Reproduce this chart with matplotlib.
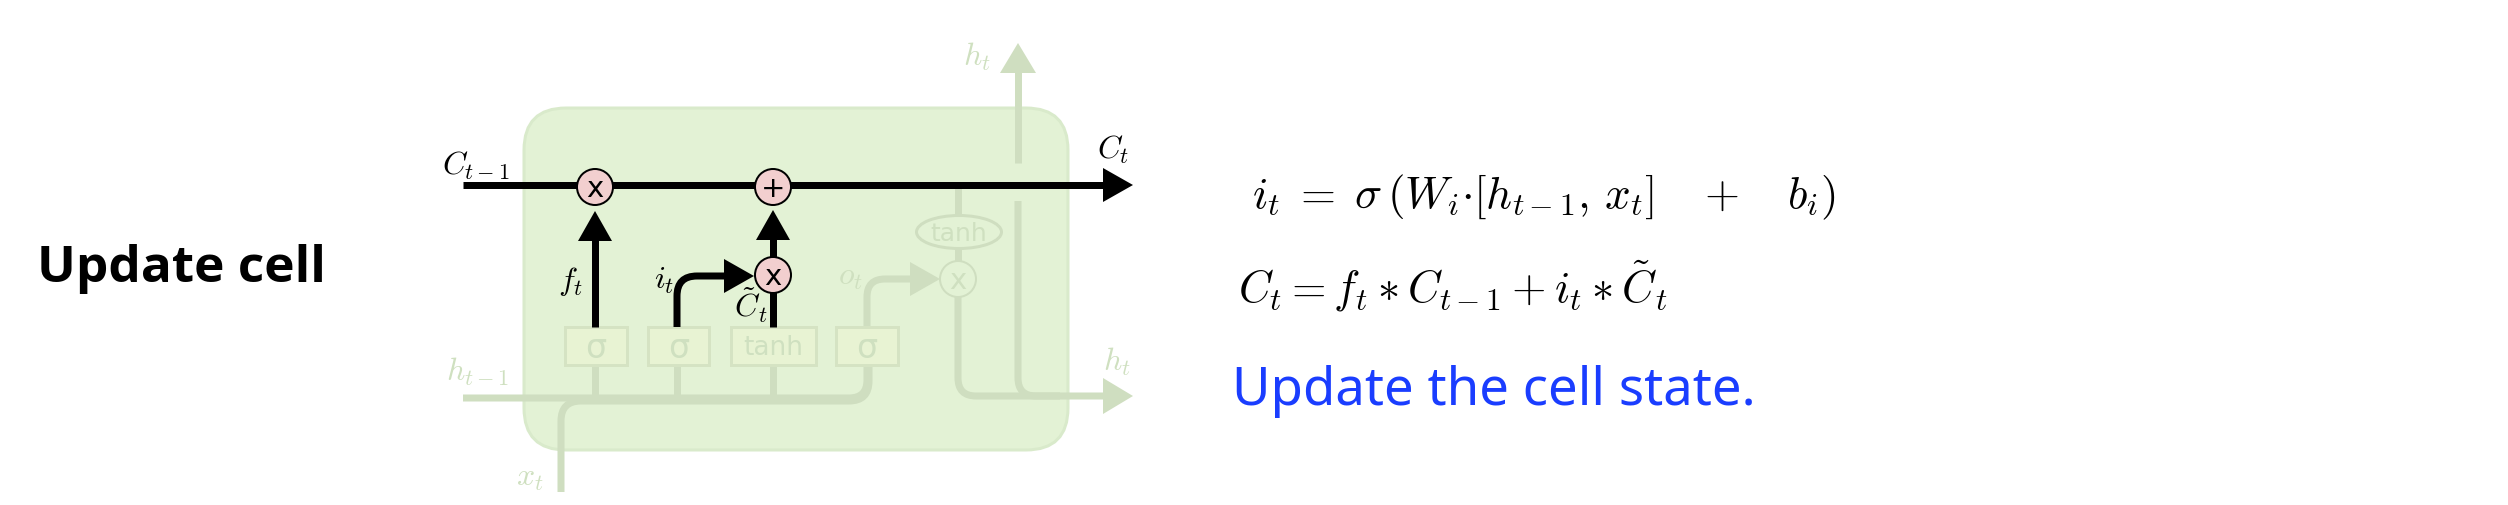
import numpy as np
import matplotlib
matplotlib.use("Agg")
import matplotlib.pyplot as plt
from matplotlib.patches import FancyBboxPatch, Rectangle, Circle, Ellipse, Polygon, PathPatch
from matplotlib.path import Path

plt.rcParams['mathtext.fontset'] = 'cm'

# ---- layout data (pixel coordinates of the diagram) ----
title_text = "Update cell"
caption_text = "Update the cell state."
eq_input_gate = r'$i_t\;=\;\sigma\,(W_i{\cdot}[h_{t-1},\,x_t]\ \ \ +\ \ \ b_i)$'
eq_cell_update = r'$C_t = f_t * C_{t-1} + i_t * \tilde{C}_t$'

gate_labels = ['σ', 'σ', 'tanh', 'σ']
gate_x0 = [565, 648, 731, 836]
gate_x1 = [627, 709, 816, 898]
gate_y0, gate_y1 = 328, 366
gate_stem_x = [595, 677, 773, 867]

cell_y = 186
hx_y = 399
op_forget = (595, 188)
op_add = (773, 188)
op_input = (773, 276)
op_output = (958, 280)
tanh_ell = (959, 233, 85, 33)

W, H = 2508, 506
fig = plt.figure(figsize=(W / 100, H / 100), dpi=100)
ax = fig.add_axes([0, 0, 1, 1])
ax.set_xlim(0, W)
ax.set_ylim(H, 0)
ax.axis('off')

PX = 72 / 100  # points per pixel
FADE = '#cfdec0'
FADE_TXT = '#cfe0c0'
BLACK = 'black'
LW = 7 * PX


def rounded(points, r=18):
    """Path through points with rounded (quadratic) corners."""
    pts = [np.array(p, float) for p in points]
    verts = [pts[0]]
    codes = [Path.MOVETO]
    for i in range(1, len(pts) - 1):
        p0, p1, p2 = pts[i - 1], pts[i], pts[i + 1]
        d1 = (p1 - p0) / np.linalg.norm(p1 - p0)
        d2 = (p2 - p1) / np.linalg.norm(p2 - p1)
        a = p1 - d1 * r
        b = p1 + d2 * r
        verts += [a, p1, b]
        codes += [Path.LINETO, Path.CURVE3, Path.CURVE3]
    verts.append(pts[-1])
    codes.append(Path.LINETO)
    return Path(verts, codes)


def line(points, color, lw=LW, r=18, z=2):
    ax.add_patch(PathPatch(rounded(points, r), facecolor='none', edgecolor=color,
                           lw=lw, capstyle='butt', joinstyle='round', zorder=z))


def head(tip, direction, color, length=30, half=17, z=3):
    tip = np.array(tip, float)
    d = np.array(direction, float)
    d = d / np.linalg.norm(d)
    n = np.array([-d[1], d[0]])
    base = tip - d * length
    ax.add_patch(Polygon([tip, base + n * half, base - n * half], closed=True,
                         facecolor=color, edgecolor='none', zorder=z))


# ---- cell body ----
ax.add_patch(FancyBboxPatch((564, 149), 464, 262, boxstyle="round,pad=40,rounding_size=42",
                            facecolor='#e3f2d5', edgecolor='#d9eacb', lw=3 * PX, zorder=1))

# ---- faded (inactive) parts ----
# h_{t-1} bus and o_t route
line([(463, hx_y), (867, hx_y), (867, gate_y1)], FADE)
# x_t input merging into the bus
line([(561, 493), (561, 402), (869, 402), (869, gate_y1)], FADE, r=20)
# gate stems
for sx in gate_stem_x[:3]:
    line([(sx, hx_y), (sx, gate_y1)], FADE)
# o_t arrow into output multiply
line([(867, gate_y0), (867, 280), (912, 280)], FADE)
head((940, 280), (1, 0), FADE)
# tanh chain on the right
line([(958, cell_y), (958, tanh_ell[1] - tanh_ell[3] / 2)], FADE)
line([(958, tanh_ell[1] + tanh_ell[3] / 2), (958, op_output[1] - 18)], FADE)
line([(958, op_output[1] + 18), (958, 397), (1105, 397)], FADE)
head((1133, 397), (1, 0), FADE, half=18)
line([(1018, 202), (1018, 397), (1060, 397)], FADE)
line([(1018, 164), (1018, 70)], FADE)
head((1018, 44), (0, -1), FADE, half=18)
ax.add_patch(Ellipse(tanh_ell[:2], tanh_ell[2], tanh_ell[3], facecolor='#e3f2d5',
                     edgecolor=FADE, lw=3 * PX, zorder=3))
ax.text(tanh_ell[0], tanh_ell[1] + 1, 'tanh', color=FADE_TXT, fontsize=18,
        ha='center', va='center', zorder=4)
ax.add_patch(Circle(op_output, 18, facecolor='#e3f2d5', edgecolor=FADE, lw=2 * PX, zorder=3))
ax.text(op_output[0], op_output[1] + 1, 'x', color=FADE_TXT, fontsize=21,
        ha='center', va='center', zorder=4)

# gate boxes
for lab, x0, x1 in zip(gate_labels, gate_x0, gate_x1):
    ax.add_patch(Rectangle((x0, gate_y0), x1 - x0, gate_y1 - gate_y0, facecolor='#e8f3d3',
                           edgecolor='#d5e3c3', lw=3 * PX, zorder=3))
    ax.text((x0 + x1) / 2, (gate_y0 + gate_y1) / 2 + 1, lab, color=FADE_TXT,
            fontsize=24 if lab == 'σ' else 19, ha='center', va='center', zorder=4)

# faded labels
fade_labels = [(r'$h_{t-1}$', 478, 372), (r'$x_t$', 530, 478), (r'$o_t$', 850, 276),
               (r'$h_t$', 977, 57), (r'$h_t$', 1117, 362)]
for s, x, y in fade_labels:
    ax.text(x, y, s, color=FADE_TXT, fontsize=23, ha='center', va='center', zorder=4)

# ---- active (black) parts ----
line([(463, cell_y), (1105, cell_y)], BLACK, z=5)
head((1133, cell_y), (1, 0), BLACK, z=5)
# forget gate
line([(595, gate_y0), (595, 240)], BLACK, z=5)
head((595, 212), (0, -1), BLACK, z=5)
# input gate
line([(677, gate_y0), (677, 277), (725, 277)], BLACK, r=20, z=5)
head((754, 277), (1, 0), BLACK, z=5)
# candidate
line([(773, gate_y0), (773, 290)], BLACK, z=5)
line([(773, 260), (773, 240)], BLACK, z=5)
head((773, 211), (0, -1), BLACK, z=5)

for (cx, cy), sym in [(op_forget, 'x'), (op_add, '+'), (op_input, 'x')]:
    ax.add_patch(Circle((cx, cy), 18, facecolor='#f2cfcf', edgecolor='black',
                        lw=2 * PX, zorder=6))
    ax.text(cx, cy + 1, sym, color='black', fontsize=21, ha='center', va='center', zorder=7)

black_labels = [(r'$C_{t-1}$', 476, 166), (r'$C_t$', 1113, 150), (r'$f_t$', 570, 281),
                (r'$i_t$', 664, 281), (r'$\tilde{C}_t$', 751, 305)]
for s, x, y in black_labels:
    ax.text(x, y, s, color='black', fontsize=23, ha='center', va='center', zorder=7)

# ---- texts ----
ax.text(37, 282, title_text, fontsize=37, fontweight='bold', family=['Open Sans', 'DejaVu Sans'],
        ha='left', va='baseline', color='black')
ax.text(1252, 208, eq_input_gate, fontsize=32.5, ha='left', va='baseline', color='black')
ax.text(1238, 302, eq_cell_update, fontsize=32, ha='left', va='baseline', color='black')
ax.text(1232, 405, caption_text, fontsize=38, family=['Noto Sans', 'DejaVu Sans'],
        ha='left', va='baseline', color='#1a3dff')

fig.savefig('out.png', dpi=100, facecolor='white')
